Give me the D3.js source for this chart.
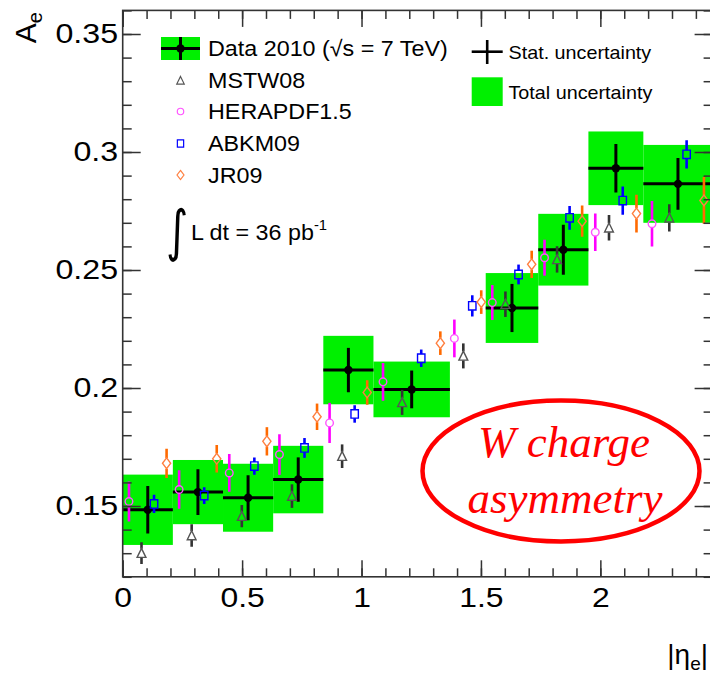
<!DOCTYPE html>
<html>
<head>
<meta charset="utf-8">
<script src="https://cdn.jsdelivr.net/npm/d3@7"></script>
<style>
  html, body { margin: 0; padding: 0; background: #fff; }
  svg { display: block; }
  text { font-family: "Liberation Sans", Arial, Helvetica, sans-serif; fill: #000; }
</style>
</head>
<body>
<div id="chart"></div>
<script>
// W -> e nu charge asymmetry versus |eta_e|, 2010 data with PDF predictions

// Measurement bins (|eta_e| edges) and measured asymmetry
const dataBinLow  = [0.00, 0.21, 0.42, 0.63, 0.84, 1.05, 1.52, 1.74, 1.95, 2.18];
const dataBinHigh = [0.21, 0.42, 0.63, 0.84, 1.05, 1.37, 1.74, 1.95, 2.18, 2.47];
const dataA       = [0.1484, 0.1559, 0.1535, 0.1612, 0.2076, 0.1994, 0.2339, 0.2586, 0.2931, 0.2865];
const dataStat    = [0.0101, 0.0097, 0.0095, 0.0094, 0.0094, 0.0080, 0.0102, 0.0106, 0.0103, 0.0110];
const dataTotal   = [0.0149, 0.0136, 0.0144, 0.0143, 0.0145, 0.0118, 0.0148, 0.0152, 0.0156, 0.0165];

// Prediction bins (include the 1.37-1.52 crack region)
const predBinEdges = [0.00, 0.21, 0.42, 0.63, 0.84, 1.05, 1.37, 1.52, 1.74, 1.95, 2.18, 2.47];

const herapdfA   = [0.1519, 0.1570, 0.1640, 0.1718, 0.1852, 0.2026, 0.2210, 0.2362, 0.2552, 0.2660, 0.2696];
const herapdfErr = [0.0085, 0.0082, 0.0080, 0.0086, 0.0085, 0.0080, 0.0080, 0.0074, 0.0076, 0.0079, 0.0096];
const mstwA      = [0.1300, 0.1375, 0.1457, 0.1542, 0.1711, 0.1939, 0.2136, 0.2355, 0.2545, 0.2679, 0.2721];
const mstwErr    = [0.0046, 0.0048, 0.0047, 0.0050, 0.0050, 0.0053, 0.0053, 0.0054, 0.0056, 0.0054, 0.0058];
const abkmA      = [0.1509, 0.1544, 0.1669, 0.1746, 0.1890, 0.2126, 0.2348, 0.2481, 0.2721, 0.2794, 0.2990];
const abkmErr    = [0.0039, 0.0035, 0.0037, 0.0042, 0.0037, 0.0037, 0.0045, 0.0042, 0.0050, 0.0060, 0.0060];
const jr09A      = [0.1681, 0.1700, 0.1774, 0.1878, 0.1981, 0.2190, 0.2364, 0.2524, 0.2707, 0.2739, 0.2795];
const jr09Err    = [0.0062, 0.0058, 0.0060, 0.0056, 0.0052, 0.0050, 0.0050, 0.0058, 0.0066, 0.0080, 0.0099];

// Axis tick labels
const xTickValues = [0, 0.5, 1, 1.5, 2];
const xTickLabels = ["0", "0.5", "1", "1.5", "2"];
const yTickValues = [0.15, 0.2, 0.25, 0.3, 0.35];
const yTickLabels = ["0.15", "0.2", "0.25", "0.3", "0.35"];

const W = 710, H = 673;
const frame = { left: 122.7, right: 712.6, top: 10.4, bottom: 576.8 };
const GREEN = "#00f000";

const svg = d3.select("#chart").append("svg").attr("width", W).attr("height", H);

const x = d3.scaleLinear().domain([0, 2.47]).range([frame.left, frame.right]);
const y = d3.scaleLinear().domain([0.12, 0.36]).range([frame.bottom, frame.top]);

// text helper with a slight horizontal stretch
function stretchText(g, px, py, str, size, sx, anchor) {
  return g.append("text")
    .attr("transform", `translate(${px},${py}) scale(${sx},1)`)
    .attr("font-size", size)
    .attr("text-anchor", anchor || "start")
    .text(str);
}

// ---------- plot content ----------
const plot = svg.append("g");
svg.append("clipPath").attr("id", "clip").append("rect")
  .attr("x", frame.left).attr("y", frame.top)
  .attr("width", frame.right - frame.left).attr("height", frame.bottom - frame.top);
plot.attr("clip-path", "url(#clip)");

const dataRows = dataA.map((a, i) => ({
  lo: dataBinLow[i], hi: dataBinHigh[i], a, stat: dataStat[i], tot: dataTotal[i]
}));

// total uncertainty boxes
plot.selectAll("rect.tot").data(dataRows).join("rect")
  .attr("class", "tot")
  .attr("x", d => x(d.lo)).attr("width", d => x(d.hi) - x(d.lo))
  .attr("y", d => y(d.a + d.tot)).attr("height", d => y(d.a - d.tot) - y(d.a + d.tot))
  .attr("fill", GREEN);

// data: bin-width horizontal bar, stat vertical bar, marker
const dataG = plot.append("g").attr("stroke", "#000").attr("stroke-width", 3);
dataG.selectAll("line.h").data(dataRows).join("line")
  .attr("x1", d => x(d.lo)).attr("x2", d => x(d.hi))
  .attr("y1", d => y(d.a)).attr("y2", d => y(d.a));
dataG.selectAll("line.v").data(dataRows).join("line")
  .attr("x1", d => x((d.lo + d.hi) / 2)).attr("x2", d => x((d.lo + d.hi) / 2))
  .attr("y1", d => y(d.a + d.stat)).attr("y2", d => y(d.a - d.stat));
plot.selectAll("circle.dat").data(dataRows).join("circle")
  .attr("cx", d => x((d.lo + d.hi) / 2)).attr("cy", d => y(d.a)).attr("r", 4.2)
  .attr("fill", "#000");

// marker shapes (centered on 0,0); half height used to break the error bar
const shapes = {
  triangle: { path: "M0,-4.8L4.4,4.2L-4.4,4.2Z", half: 4.5 },
  circle:   { path: d3.arc()({ innerRadius: 0, outerRadius: 3.8, startAngle: 0, endAngle: 2 * Math.PI }), half: 3.8 },
  square:   { path: "M-3.7,-4.2H3.7V4.2H-3.7Z", half: 4.2 },
  diamond:  { path: "M0,-5.4L4.1,0L0,5.4L-4.1,0Z", half: 5.4 }
};

const predictions = [
  { name: "HERAPDF1.5", vals: herapdfA, errs: herapdfErr, slot: 0, shape: "circle",   bar: "#ff00ff", mark: "#ff55ff" },
  { name: "MSTW08",     vals: mstwA,    errs: mstwErr,    slot: 1, shape: "triangle", bar: "#333333", mark: "#555555" },
  { name: "ABKM09",     vals: abkmA,    errs: abkmErr,    slot: 2, shape: "square",   bar: "#0000ff", mark: "#0000ff" },
  { name: "JR09",       vals: jr09A,    errs: jr09Err,    slot: 3, shape: "diamond",  bar: "#ff6a00", mark: "#ff7f3f" }
];

predictions.forEach(p => {
  const rows = p.vals.map((v, i) => {
    const lo = predBinEdges[i], hi = predBinEdges[i + 1];
    return { xv: lo + (hi - lo) * (2 * p.slot + 1) / 8, v, e: p.errs[i] };
  });
  const g = plot.append("g");
  const h = shapes[p.shape].half;
  g.selectAll("line.up").data(rows).join("line")
    .attr("x1", d => x(d.xv)).attr("x2", d => x(d.xv))
    .attr("y1", d => y(d.v + d.e)).attr("y2", d => y(d.v) - h)
    .attr("stroke", p.bar).attr("stroke-width", 2.6);
  g.selectAll("line.dn").data(rows).join("line")
    .attr("x1", d => x(d.xv)).attr("x2", d => x(d.xv))
    .attr("y1", d => y(d.v) + h).attr("y2", d => y(d.v - d.e))
    .attr("stroke", p.bar).attr("stroke-width", 2.6);
  g.selectAll("path").data(rows).join("path")
    .attr("d", shapes[p.shape].path)
    .attr("transform", d => `translate(${x(d.xv)},${y(d.v)})`)
    .attr("fill", "none").attr("stroke", p.mark).attr("stroke-width", 1.4);
});

// ---------- axes ----------
const axisColor = "#333";
const xMinor = d3.range(0, 2.47, 0.1).map(v => +v.toFixed(2));
const yMinor = d3.range(0.12, 0.3601, 0.01).map(v => +v.toFixed(2));

function styleAxis(g) {
  g.select(".domain").remove();
  g.selectAll(".tick line").attr("stroke", axisColor).attr("stroke-width", 1.5);
}

// bottom
svg.append("g").attr("transform", `translate(0,${frame.bottom})`)
  .call(d3.axisBottom(x).tickValues(xMinor).tickSizeInner(-8.5).tickSizeOuter(0).tickFormat(""))
  .call(styleAxis);
const xAx = svg.append("g").attr("transform", `translate(0,${frame.bottom})`)
  .call(d3.axisBottom(x).tickValues(xTickValues).tickSizeInner(-16.5).tickSizeOuter(0)
    .tickPadding(10).tickFormat((d, i) => xTickLabels[i]))
  .call(styleAxis);
xAx.selectAll(".tick text")
  .attr("font-size", 28.5).attr("font-family", null).attr("fill", "#000")
  .attr("transform", "scale(1.12,1)");
// top
svg.append("g").attr("transform", `translate(0,${frame.top})`)
  .call(d3.axisTop(x).tickValues(xMinor).tickSizeInner(-8.5).tickSizeOuter(0).tickFormat(""))
  .call(styleAxis);
svg.append("g").attr("transform", `translate(0,${frame.top})`)
  .call(d3.axisTop(x).tickValues(xTickValues).tickSizeInner(-16.5).tickSizeOuter(0).tickFormat(""))
  .call(styleAxis);
// left
svg.append("g").attr("transform", `translate(${frame.left},0)`)
  .call(d3.axisLeft(y).tickValues(yMinor).tickSizeInner(-9).tickSizeOuter(0).tickFormat(""))
  .call(styleAxis);
const yAx = svg.append("g").attr("transform", `translate(${frame.left},0)`)
  .call(d3.axisLeft(y).tickValues(yTickValues).tickSizeInner(-18).tickSizeOuter(0)
    .tickPadding(4).tickFormat((d, i) => yTickLabels[i]))
  .call(styleAxis);
yAx.selectAll(".tick text")
  .attr("font-size", 28).attr("font-family", null).attr("fill", "#000")
  .attr("transform", "scale(1.15,1)");
// right
svg.append("g").attr("transform", `translate(${frame.right},0)`)
  .call(d3.axisRight(y).tickValues(yMinor).tickSizeInner(-9).tickSizeOuter(0).tickFormat(""))
  .call(styleAxis);
svg.append("g").attr("transform", `translate(${frame.right},0)`)
  .call(d3.axisRight(y).tickValues(yTickValues).tickSizeInner(-18).tickSizeOuter(0).tickFormat(""))
  .call(styleAxis);

// frame
svg.append("rect")
  .attr("x", frame.left).attr("y", frame.top)
  .attr("width", frame.right - frame.left).attr("height", frame.bottom - frame.top)
  .attr("fill", "none").attr("stroke", axisColor).attr("stroke-width", 1.6);

// axis titles
const yTitle = svg.append("text")
  .attr("transform", `translate(36,12) rotate(-90)`)
  .attr("text-anchor", "end").attr("font-size", 30);
yTitle.append("tspan").text("A");
yTitle.append("tspan").attr("font-size", 20).attr("dy", 6).text("e");

const xTitle = svg.append("text")
  .attr("transform", `translate(708,664)`)
  .attr("text-anchor", "end").attr("font-size", 28);
xTitle.append("tspan").text("|η");
xTitle.append("tspan").attr("font-size", 19).attr("dy", 6).text("e");
xTitle.append("tspan").attr("dy", -6).text("|");

// ---------- legend ----------
const leg = svg.append("g");
const legX = 180.5, legTextX = 208, legSize = 22, legSx = 1.06;

// data entry
leg.append("rect").attr("x", 161).attr("y", 37).attr("width", 39).attr("height", 23).attr("fill", GREEN);
leg.append("line").attr("x1", 161).attr("x2", 200).attr("y1", 48.5).attr("y2", 48.5)
  .attr("stroke", "#000").attr("stroke-width", 3);
leg.append("line").attr("x1", legX).attr("x2", legX).attr("y1", 37).attr("y2", 60)
  .attr("stroke", "#000").attr("stroke-width", 3);
leg.append("circle").attr("cx", legX).attr("cy", 48.5).attr("r", 4.2).attr("fill", "#000");
stretchText(leg, legTextX, 55.5, "Data 2010 (√s = 7 TeV)", legSize, legSx);

const legendOrder = ["MSTW08", "HERAPDF1.5", "ABKM09", "JR09"];
const legendRowY = [80.5, 111.5, 143.5, 175];
legendOrder.forEach((name, i) => {
  const p = predictions.find(q => q.name === name);
  leg.append("path").attr("d", shapes[p.shape].path)
    .attr("transform", `translate(${legX},${legendRowY[i]}) scale(0.85)`)
    .attr("fill", "none").attr("stroke", p.mark).attr("stroke-width", 1.4);
  stretchText(leg, legTextX, legendRowY[i] + 7.8, name, legSize, legSx);
});

// integrated luminosity
leg.append("text").attr("transform", "translate(166,250) scale(0.85,1.12)")
  .attr("font-size", 50).style("font-family", "'DejaVu Sans', sans-serif").text("∫");
const lumi = leg.append("text")
  .attr("transform", `translate(191,240) scale(${legSx},1)`).attr("font-size", legSize);
lumi.append("tspan").text("L dt = 36 pb");
lumi.append("tspan").attr("font-size", 14).attr("dy", -10).text("-1");

// uncertainty key
leg.append("line").attr("x1", 471.7).attr("x2", 502.7).attr("y1", 51.7).attr("y2", 51.7)
  .attr("stroke", "#000").attr("stroke-width", 2.6);
leg.append("line").attr("x1", 487.2).attr("x2", 487.2).attr("y1", 40).attr("y2", 64)
  .attr("stroke", "#000").attr("stroke-width", 2.6);
stretchText(leg, 508.5, 59, "Stat. uncertainty", 19, 1.04);
leg.append("rect").attr("x", 471.7).attr("y", 77.3).attr("width", 31).attr("height", 28.7).attr("fill", GREEN);
stretchText(leg, 508.5, 98.5, "Total uncertainty", 19, 1.04);

// ---------- annotation ----------
const note = svg.append("g");
note.append("ellipse").attr("cx", 561).attr("cy", 471).attr("rx", 138.5).attr("ry", 70.5)
  .attr("fill", "none").attr("stroke", "#ff0000").attr("stroke-width", 4.5);
const noteFont = "'Liberation Serif', 'Times New Roman', serif";
note.append("text").attr("x", 564).attr("y", 457).attr("text-anchor", "middle")
  .style("font-family", noteFont).style("font-style", "italic")
  .attr("font-size", 45).style("fill", "#ff0000").text("W charge");
note.append("text").attr("x", 565).attr("y", 513).attr("text-anchor", "middle")
  .style("font-family", noteFont).style("font-style", "italic")
  .attr("font-size", 45).style("fill", "#ff0000").text("asymmetry");
</script>
</body>
</html>
